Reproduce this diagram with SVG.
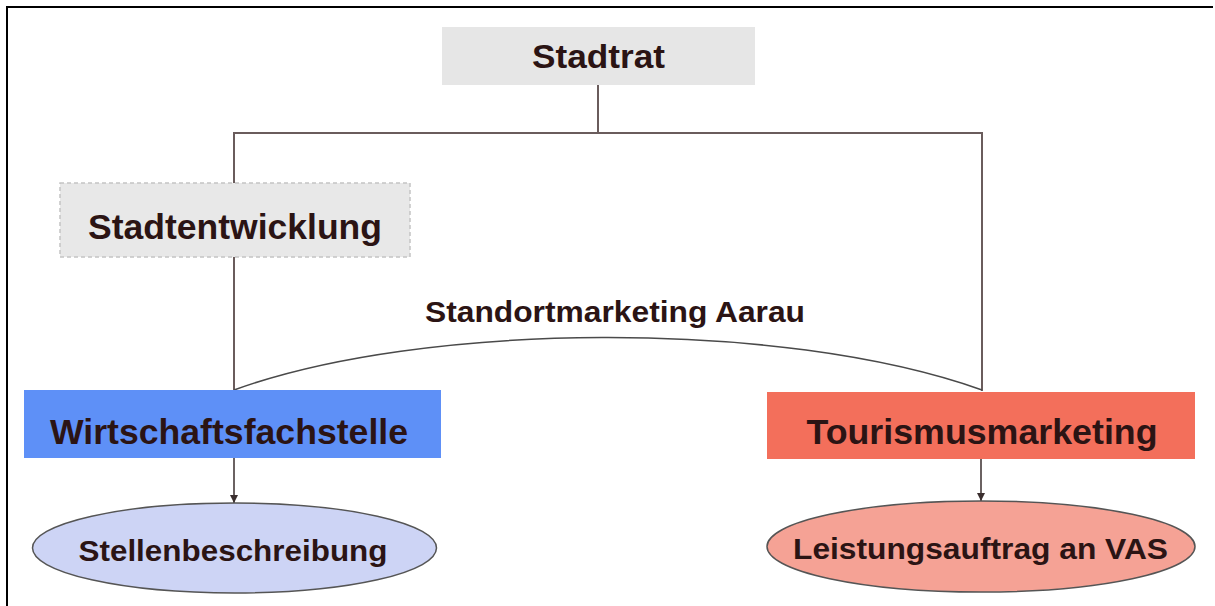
<svg xmlns="http://www.w3.org/2000/svg" width="1215" height="606" viewBox="0 0 1215 606">
  <defs>
    <style>
      .lbl { font-family: "Liberation Sans", Arial, sans-serif; font-weight: bold; fill: #2b1414; text-anchor: middle; }
      .conn { stroke: #6a5c5c; stroke-width: 2; fill: none; }
      .arrow { stroke: #3a2e2e; stroke-width: 1.5; fill: none; }
    </style>
    <marker id="ah" viewBox="0 0 10 10" refX="10" refY="5" markerWidth="9" markerHeight="8" markerUnits="userSpaceOnUse" orient="auto">
      <path d="M0,0 L10,5 L0,10 z" fill="#3a2e2e"/>
    </marker>
  </defs>
  <rect width="1215" height="606" fill="#ffffff"/>
  <path d="M7,606 V7 H1213" stroke="#000" stroke-width="2" fill="none"/>

  <g id="connectors">
    <path class="conn" d="M598,85 V133"/>
    <path class="conn" d="M234,183 V133 H982 V391"/>
    <path class="conn" d="M234,257 V390"/>
    <path d="M234,390 C420,322 780,318 982,390" stroke="#4a4a4a" stroke-width="1.5" fill="none"/>
    <path class="arrow" d="M234,458 V503" marker-end="url(#ah)"/>
    <path class="arrow" d="M981,459 V501" marker-end="url(#ah)"/>
  </g>

  <g id="stadtrat">
    <rect x="442" y="27" width="313" height="58" fill="#e6e6e6"/>
    <text class="lbl" x="598.5" y="68" font-size="33" textLength="133" lengthAdjust="spacingAndGlyphs">Stadtrat</text>
  </g>

  <g id="stadtentwicklung">
    <rect x="60" y="183" width="350" height="74" fill="#e8e8e8" stroke="#c4c4c4" stroke-width="1.5" stroke-dasharray="4 3"/>
    <text class="lbl" x="235" y="239" font-size="35" textLength="294" lengthAdjust="spacingAndGlyphs">Stadtentwicklung</text>
  </g>

  <g id="standortmarketing-label">
    <text class="lbl" x="615" y="322" font-size="30" textLength="380" lengthAdjust="spacingAndGlyphs">Standortmarketing Aarau</text>
  </g>

  <g id="wirtschaftsfachstelle">
    <rect x="24" y="390" width="417" height="68" fill="#5e90f7"/>
    <text class="lbl" x="229" y="444" font-size="35" textLength="358" lengthAdjust="spacingAndGlyphs">Wirtschaftsfachstelle</text>
  </g>

  <g id="tourismusmarketing">
    <rect x="767" y="392" width="428" height="67" fill="#f36f5b"/>
    <text class="lbl" x="982" y="444" font-size="35" textLength="351" lengthAdjust="spacingAndGlyphs">Tourismusmarketing</text>
  </g>

  <g id="stellenbeschreibung">
    <ellipse cx="234.5" cy="548" rx="202" ry="45" fill="#cdd4f5" stroke="#555" stroke-width="1.5"/>
    <text class="lbl" x="233" y="561" font-size="30" textLength="309" lengthAdjust="spacingAndGlyphs">Stellenbeschreibung</text>
  </g>

  <g id="leistungsauftrag">
    <ellipse cx="981" cy="546.5" rx="214" ry="45.5" fill="#f5a295" stroke="#555" stroke-width="1.5"/>
    <text class="lbl" x="980.5" y="559" font-size="30" textLength="375" lengthAdjust="spacingAndGlyphs">Leistungsauftrag an VAS</text>
  </g>
</svg>
